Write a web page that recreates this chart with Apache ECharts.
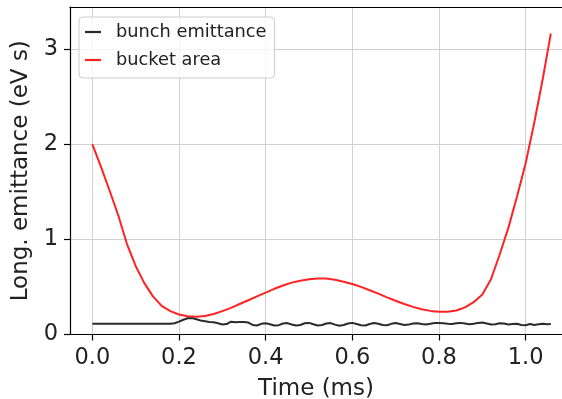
<!DOCTYPE html>
<html>
<head>
<meta charset="utf-8">
<script src="https://cdn.jsdelivr.net/npm/echarts@6/dist/echarts.min.js"></script>
<style>html,body{margin:0;padding:0;background:#fff}#c{width:562px;height:399px}</style>
</head>
<body>
<div id="c"></div>
<script>
const xTicks = [0.0, 0.2, 0.4, 0.6, 0.8, 1.0];
const yTicks = [0, 1, 2, 3];

const bucketT = [0.00,0.02,0.04,0.06,0.08,0.10,0.12,0.14,0.16,0.18,0.20,0.22,0.24,0.26,0.28,0.30,0.32,0.34,0.36,0.38,0.40,0.42,0.44,0.46,0.48,0.50,0.52,0.54,0.56,0.58,0.60,0.62,0.64,0.66,0.68,0.70,0.72,0.74,0.76,0.78,0.80,0.82,0.84,0.86,0.88,0.90,0.92,0.94,0.96,0.98,1.00,1.02,1.04,1.058];
const bucketArea = [2.00,1.76,1.51,1.25,0.95,0.72,0.54,0.40,0.30,0.245,0.21,0.192,0.186,0.195,0.215,0.245,0.28,0.32,0.36,0.40,0.44,0.48,0.515,0.545,0.565,0.58,0.587,0.587,0.575,0.555,0.53,0.50,0.465,0.43,0.39,0.355,0.32,0.29,0.265,0.248,0.238,0.238,0.252,0.285,0.34,0.42,0.58,0.84,1.12,1.45,1.80,2.23,2.70,3.16];

const bunchT = [0.00,0.18,0.19,0.20,0.21,0.22,0.23,0.24,0.25,0.26,0.27,0.28,0.29,0.30,0.31,0.32,0.33,0.34,0.35,0.36,0.37,0.38,0.39,0.40,0.41,0.42,0.43,0.44,0.45,0.46,0.47,0.48,0.49,0.50,0.51,0.52,0.53,0.54,0.55,0.56,0.57,0.58,0.59,0.60,0.61,0.62,0.63,0.64,0.65,0.66,0.67,0.68,0.69,0.70,0.71,0.72,0.73,0.74,0.75,0.76,0.77,0.78,0.79,0.80,0.81,0.82,0.83,0.84,0.85,0.86,0.87,0.88,0.89,0.90,0.91,0.92,0.93,0.94,0.95,0.96,0.97,0.98,0.99,1.00,1.01,1.02,1.03,1.04,1.05,1.058];
const bunchEmittance = [0.112,0.112,0.118,0.135,0.155,0.170,0.172,0.160,0.148,0.140,0.132,0.128,0.118,0.105,0.110,0.135,0.128,0.130,0.132,0.125,0.100,0.095,0.112,0.118,0.108,0.095,0.098,0.115,0.120,0.105,0.095,0.100,0.118,0.122,0.108,0.094,0.100,0.116,0.120,0.104,0.092,0.100,0.115,0.122,0.110,0.098,0.095,0.110,0.120,0.112,0.100,0.098,0.112,0.120,0.110,0.100,0.104,0.115,0.118,0.110,0.105,0.112,0.120,0.122,0.118,0.112,0.110,0.118,0.122,0.115,0.108,0.112,0.122,0.125,0.115,0.105,0.108,0.118,0.115,0.105,0.110,0.112,0.100,0.098,0.110,0.100,0.108,0.112,0.108,0.110];

const seriesNames = ['bunch emittance', 'bucket area'];

const chart = echarts.init(document.getElementById('c'), null, {renderer: 'canvas'});
const font = 'DejaVu Sans';
const xMin = -0.0515, xMax = 1.0838;
chart.setOption({
  animation: false,
  backgroundColor: '#ffffff',
  grid: {left: 70, right: 0, top: 7, bottom: 64.5, outerBoundsMode: 'none', containLabel: false},
  legend: {
    left: 79, top: 17, orient: 'vertical',
    data: seriesNames.map(n => ({name: n, icon: 'rect'})),
    itemWidth: 16, itemHeight: 2.2, itemGap: 8,
    padding: [5, 8, 8, 6],
    borderColor: '#cccccc', borderWidth: 1, borderRadius: 4,
    backgroundColor: 'rgba(255,255,255,0.8)',
    textStyle: {fontFamily: font, fontSize: 17.8, color: '#222', lineHeight: 20, padding: [0, 0, 0, 10]}
  },
  xAxis: [{
    type: 'value', min: xMin, max: xMax,
    name: 'Time (ms)', nameLocation: 'middle', nameGap: 43,
    nameTextStyle: {fontFamily: font, fontSize: 23, color: '#222'},
    axisLine: {show: true, onZero: false, lineStyle: {color: '#000', width: 1.2}},
    axisTick: {show: true, inside: false, length: 6, customValues: xTicks, lineStyle: {color: '#000', width: 1.2}},
    axisLabel: {customValues: xTicks, margin: 12, fontFamily: font, fontSize: 22.5, color: '#222', formatter: v => v.toFixed(1)},
    splitLine: {show: true, lineStyle: {color: '#d0d0d0', width: 1}}
  }, {
    type: 'value', position: 'top', min: xMin, max: xMax,
    axisLine: {show: true, onZero: false, lineStyle: {color: '#000', width: 1.2}},
    axisTick: {show: false}, axisLabel: {show: false}, splitLine: {show: false}
  }],
  yAxis: {
    type: 'value', min: 0, max: 3.44, interval: 1,
    name: 'Long. emittance (eV s)', nameLocation: 'middle', nameGap: 28, nameRotate: 90,
    nameTextStyle: {fontFamily: font, fontSize: 23, color: '#222'},
    axisLine: {show: true, onZero: false, lineStyle: {color: '#000', width: 1.2}},
    axisTick: {show: true, length: 6, lineStyle: {color: '#000', width: 1.2}},
    axisLabel: {margin: 12, fontFamily: font, fontSize: 22.5, color: '#222', formatter: v => String(v), showMaxLabel: false},
    splitLine: {show: true, lineStyle: {color: '#d0d0d0', width: 1}}
  },
  series: [
    {
      name: seriesNames[0], type: 'line', symbol: 'none',
      data: bunchT.map((t, i) => [t, bunchEmittance[i]]),
      itemStyle: {color: '#2a2a2a'},
      lineStyle: {color: '#2a2a2a', width: 2}, z: 3
    },
    {
      name: seriesNames[1], type: 'line', symbol: 'none',
      data: bucketT.map((t, i) => [t, bucketArea[i]]),
      itemStyle: {color: '#ff2222'},
      lineStyle: {color: '#ff2222', width: 2}, z: 2
    }
  ]
});
</script>
</body>
</html>
